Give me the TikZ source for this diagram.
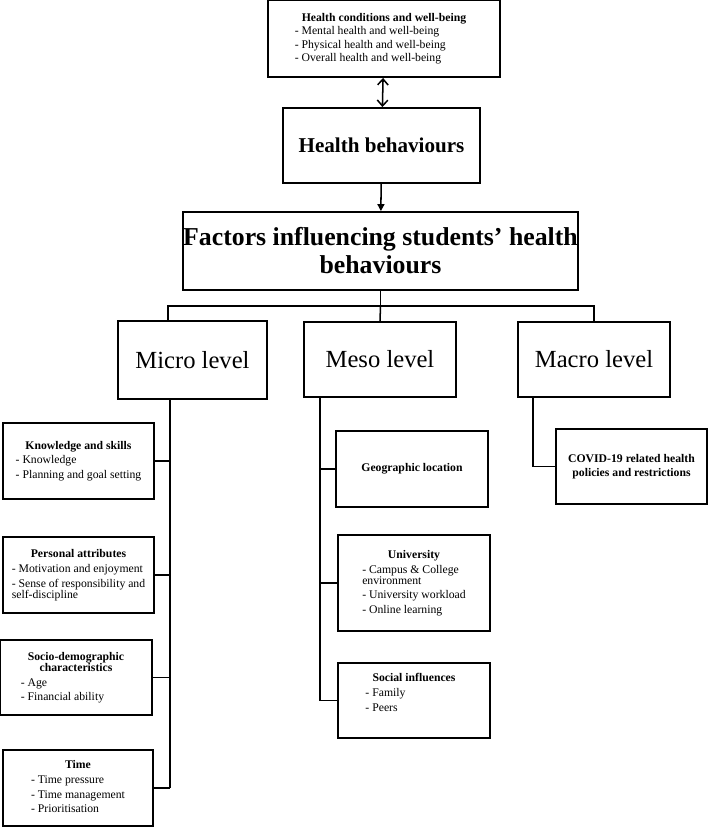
\documentclass[tikz,border=0pt]{standalone}
\usepackage{fontspec}
\setmainfont{Liberation Serif}
\usetikzlibrary{arrows.meta}
\usetikzlibrary{positioning}

\begin{document}
\begin{tikzpicture}[x=0.03cm,y=-0.03cm]
          \tikzstyle{box} = [draw=black, line width=1.6pt, inner sep=0pt, align=center, font=\fontsize{10}{12.5}\selectfont]
          \tikzstyle{link} = [line width=1.3pt]

          \useasboundingbox (0,0) rectangle (709,827);

          % Top of the chain
          \node[box, minimum width=232*0.03cm, minimum height=77*0.03cm] (cond) at (384,38.5)
            {\begin{tabular}{@{}l@{}}\multicolumn{1}{c}{\textbf{Health conditions and well-being}}\\[-1pt]
             - Mental health and well-being\\[-1pt] - Physical health and well-being\\[-1pt] - Overall health and well-being\end{tabular}};
          \node[box, minimum width=197*0.03cm, minimum height=75*0.03cm, font=\fontsize{18}{20}\selectfont\bfseries] (behav) at (381.5,145.5) {Health behaviours};
          \node[box, minimum width=351*0.03cm, minimum height=78*0.03cm, font=\fontsize{22}{24}\selectfont\bfseries] (factors) at (380.5,251) {Factors influencing students' health\\behaviours};

          % Levels
          \node[box, minimum width=149*0.03cm, minimum height=78*0.03cm, font=\fontsize{21}{24}\selectfont] (micro) at (192.5,360) {Micro level};
          \node[box, minimum width=152*0.03cm, minimum height=75*0.03cm, font=\fontsize{21}{24}\selectfont] (meso) at (380,359.5) {Meso level};
          \node[box, minimum width=152*0.03cm, minimum height=75*0.03cm, font=\fontsize{21}{24}\selectfont] (macro) at (594,359.5) {Macro level};

          % Micro factors
          \node[box, minimum width=151*0.03cm, minimum height=76*0.03cm] (know) at (78.5,461)
            {\begin{tabular}{@{}l@{}}\multicolumn{1}{c}{\textbf{Knowledge and skills}}\\ - Knowledge\\ - Planning and goal setting\end{tabular}};
          \node[box, minimum width=151*0.03cm, minimum height=76*0.03cm] (person) at (78.5,575)
            {\begin{tabular}{@{}l@{}}\multicolumn{1}{c}{\textbf{Personal attributes}}\\ - Motivation and enjoyment\\ - Sense of responsibility and\\[-3pt] self-discipline\end{tabular}};
          \node[box, minimum width=152*0.03cm, minimum height=75*0.03cm] (socio) at (76,677.5)
            {\begin{tabular}{@{}l@{}}\multicolumn{1}{c}{\textbf{Socio-demographic}}\\[-3pt] \multicolumn{1}{c}{\textbf{characteristics}}\\ - Age\\ - Financial ability\end{tabular}};
          \node[box, minimum width=150*0.03cm, minimum height=76*0.03cm] (time) at (78,788)
            {\begin{tabular}{@{}l@{}}\multicolumn{1}{c}{\textbf{Time}}\\ - Time pressure\\ - Time management\\ - Prioritisation\end{tabular}};

          % Meso factors
          \node[box, minimum width=152*0.03cm, minimum height=76*0.03cm, font=\fontsize{10}{12.5}\selectfont\bfseries] (geo) at (412,469) {Geographic location};
          \node[box, minimum width=152*0.03cm, minimum height=96*0.03cm] (uni) at (414,583)
            {\begin{tabular}{@{}l@{}}\multicolumn{1}{c}{\textbf{University}}\\ - Campus \& College\\[-3pt] environment\\ - University workload\\ - Online learning\end{tabular}};
          \node[box, minimum width=152*0.03cm, minimum height=75*0.03cm] (social) at (414,700.5)
            {\begin{tabular}{@{}l@{}}\multicolumn{1}{c}{\textbf{Social influences}}\\ - Family\\ - Peers\\[12pt]\end{tabular}};

          % Macro factors
          \node[box, minimum width=151*0.03cm, minimum height=75*0.03cm, font=\fontsize{10}{12.5}\selectfont\bfseries] (covid) at (631.5,466.5) {COVID-19 related health\\policies and restrictions};

          % Arrows
          \draw[link, {Straight Barb[length=5pt,width=9pt]}-{Straight Barb[length=5pt,width=9pt]}] (cond) -- (behav);
          \draw[link, -{Triangle[length=6pt,width=6pt]}] (behav) -- (factors);

          % Tree
          \coordinate (split) at (380.5,306);
          \draw[link] (factors) -- (split);
          \draw[link] (micro.north -| 168,0) -- (168,306) -- (594,306) -- (macro.north);
          \draw[link] (split) -- (meso.north);

          \draw[link] (micro.south -| 170,0) -- (170,788);
          \foreach \fac in {know, person, socio, time}
            \draw[link] (\fac.east) -- (\fac.east -| 170,0);

          \draw[link] (meso.south -| 320,0) -- (320,700.5);
          \foreach \fac in {geo, uni, social}
            \draw[link] (\fac.west) -- (\fac.west -| 320,0);

          \draw[link] (macro.south -| 533,0) -- (533,466.5) -- (covid.west);
        \end{tikzpicture}
\end{document}
